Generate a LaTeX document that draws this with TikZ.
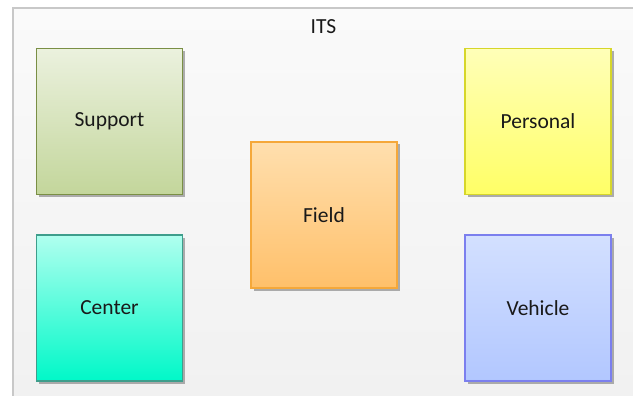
\documentclass[tikz,border=0pt]{standalone}
\usepackage{fontspec}
\setmainfont{Carlito}
\usetikzlibrary{shadows}
\definecolor{framegray}{HTML}{C8C8C8}
\definecolor{bgtop}{HTML}{FAFAFA}
\definecolor{bgbot}{HTML}{F1F1F1}
\definecolor{supT}{HTML}{EBF1DE}
\definecolor{supB}{HTML}{C3D69B}
\definecolor{supD}{HTML}{7A8F45}
\definecolor{perT}{HTML}{FFFFB8}
\definecolor{perB}{HTML}{FFFF66}
\definecolor{perD}{HTML}{D6D62A}
\definecolor{fldT}{HTML}{FFDFAE}
\definecolor{fldB}{HTML}{FFC06A}
\definecolor{fldD}{HTML}{F5A83A}
\definecolor{cenT}{HTML}{B0FFEF}
\definecolor{cenB}{HTML}{00F8C8}
\definecolor{cenD}{HTML}{3E9E8C}
\definecolor{vehT}{HTML}{D3E0FF}
\definecolor{vehB}{HTML}{B2C7FF}
\definecolor{vehD}{HTML}{7B7FEE}
\tikzset{
  box/.style={draw, line width=1.4pt, minimum width=146pt, minimum height=146pt,
    inner sep=0pt, font=\fontsize{21.5}{25}\selectfont, text=black!90,
    drop shadow={shadow xshift=2.5pt, shadow yshift=-2.5pt, fill=black!45, opacity=0.7}},
  title/.style={font=\fontsize{21.5}{25}\selectfont, text=black!90}
}
\begin{document}
\begin{tikzpicture}[x=1pt,y=-1pt]
\useasboundingbox (0,0) rectangle (633,396);
\fill[white] (0,0) rectangle (633,396);
\shade[top color=bgtop, bottom color=bgbot] (13,8) rectangle (633,396);
\draw[framegray, line width=1.2pt] (13,396) -- (13,8) -- (633,8);
\node[title] (its) at (323.5,27) {ITS};
\node[box, draw=supD, top color=supT, bottom color=supB] (support) at (109.5,121.5) {Support};
\node[box, draw=cenD, top color=cenT, bottom color=cenB] (center) at (109.5,308) {Center};
\node[box, draw=fldD, top color=fldT, bottom color=fldB] (field) at (324,215) {Field};
\node[box, draw=perD, top color=perT, bottom color=perB] (personal) at (538,121.5) {Personal};
\node[box, draw=vehD, top color=vehT, bottom color=vehB] (vehicle) at (538,308) {Vehicle};
\end{tikzpicture}
\end{document}
